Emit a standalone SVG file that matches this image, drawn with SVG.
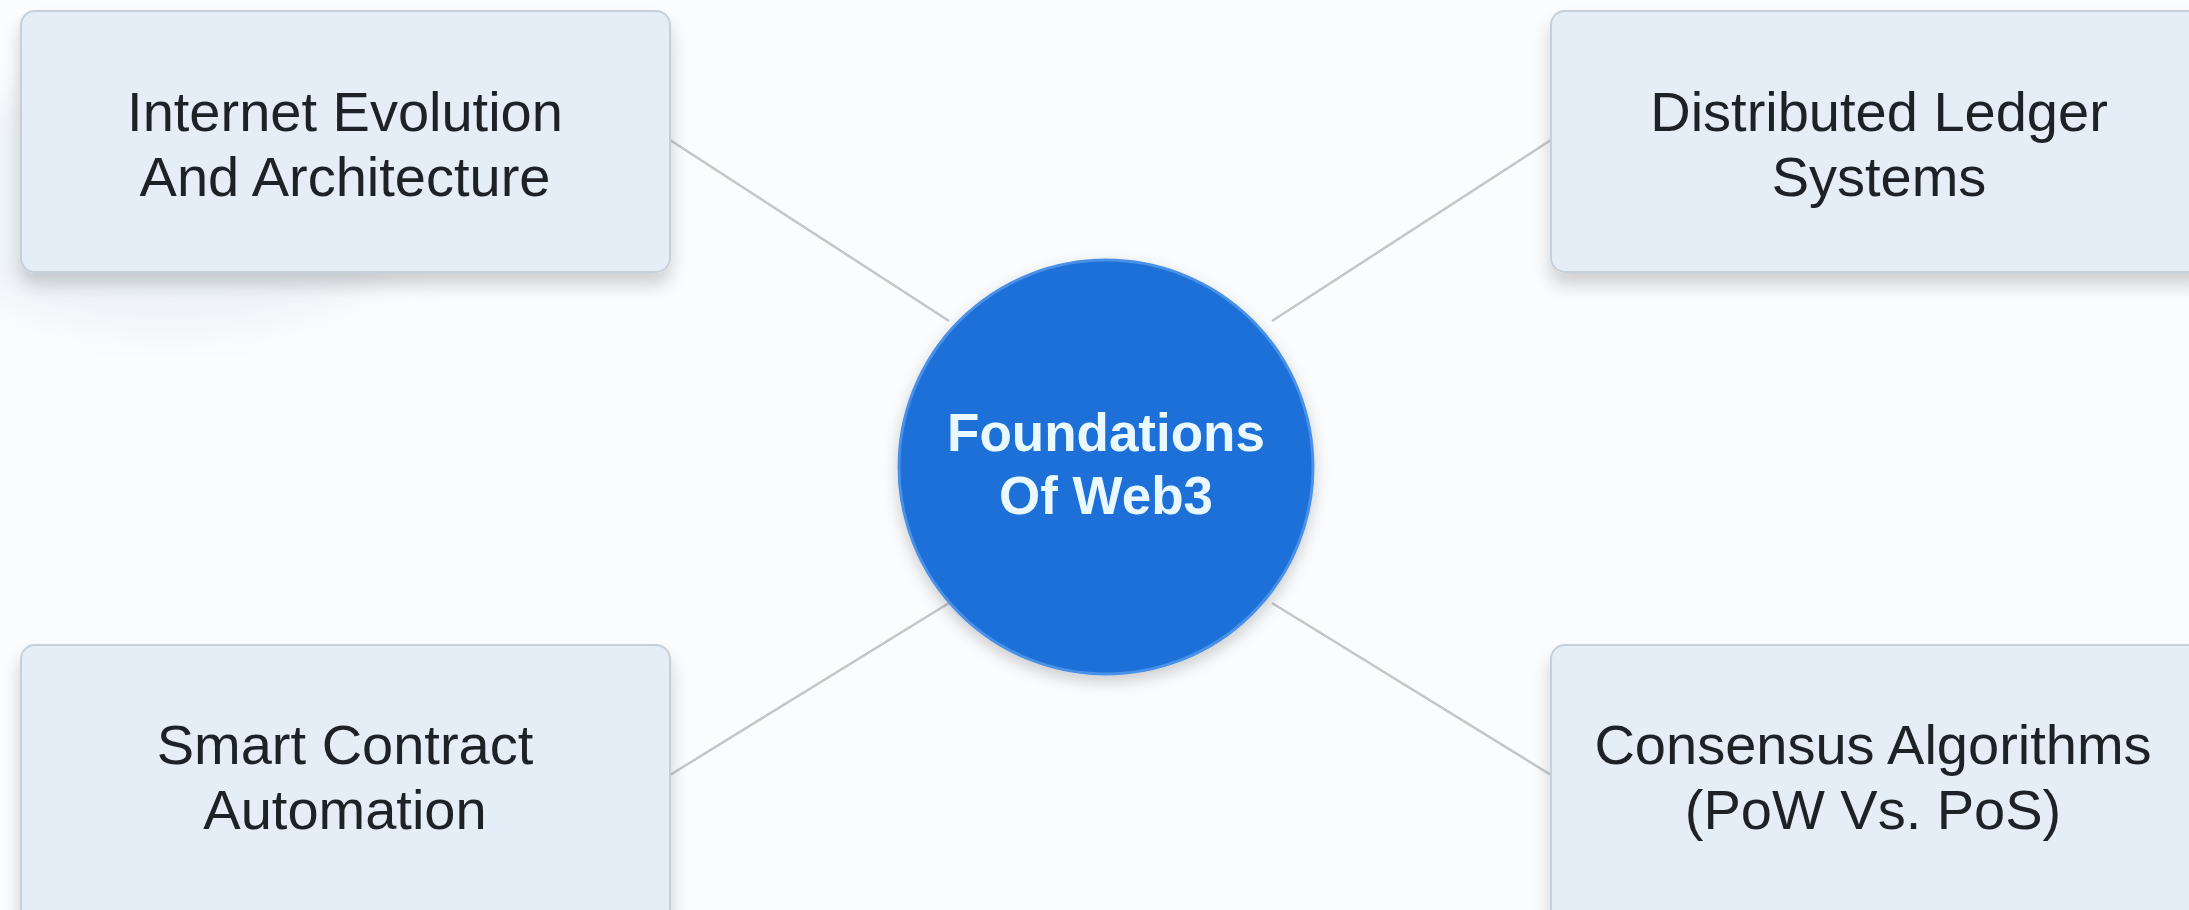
<svg xmlns="http://www.w3.org/2000/svg" width="2189" height="910" viewBox="0 0 2189 910">
<defs>
<filter id="sh" x="-10%" y="-10%" width="120%" height="135%">
<feGaussianBlur in="SourceAlpha" stdDeviation="9"/>
<feOffset dx="0" dy="12"/>
<feComponentTransfer><feFuncA type="linear" slope="0.18"/></feComponentTransfer>
<feMerge><feMergeNode/><feMergeNode in="SourceGraphic"/></feMerge>
</filter>
<filter id="csh" x="-20%" y="-20%" width="140%" height="140%">
<feGaussianBlur in="SourceAlpha" stdDeviation="8"/>
<feOffset dx="0" dy="6"/>
<feComponentTransfer><feFuncA type="linear" slope="0.2"/></feComponentTransfer>
<feMerge><feMergeNode/><feMergeNode in="SourceGraphic"/></feMerge>
</filter>
<filter id="blur"><feGaussianBlur stdDeviation="20"/></filter>
</defs>
<style>
.box{fill:#e5edf6;stroke:#c6d0db;stroke-width:2}
.lbl{font-family:"Liberation Sans",Arial,sans-serif;font-size:56px;fill:#1c2128;text-anchor:middle}
.ctr{font-family:"Liberation Sans",Arial,sans-serif;font-size:53px;font-weight:bold;fill:#eaf8ff;text-anchor:middle}
.con{stroke:#c3c7cc;stroke-width:2.5;fill:none}
</style>
<rect x="0" y="0" width="2189" height="910" fill="#fbfcfd"/>
<ellipse cx="170" cy="200" rx="260" ry="130" fill="#eef3f8" filter="url(#blur)"/>
<g id="connectors">
<line class="con" x1="670" y1="140" x2="949" y2="321"/>
<line class="con" x1="1551" y1="140" x2="1272" y2="321"/>
<line class="con" x1="670" y1="775" x2="949" y2="603"/>
<line class="con" x1="1551" y1="775" x2="1272" y2="603"/>
</g>
<g id="node-internet" filter="url(#sh)">
<rect class="box" x="21" y="11" width="649" height="261" rx="14"/>
<text class="lbl" x="345" y="131">Internet Evolution</text>
<text class="lbl" x="345" y="196">And Architecture</text>
</g>
<g id="node-ledger" filter="url(#sh)">
<rect class="box" x="1551" y="11" width="660" height="261" rx="14"/>
<text class="lbl" x="1879" y="131">Distributed Ledger</text>
<text class="lbl" x="1879" y="196">Systems</text>
</g>
<g id="node-smart" filter="url(#sh)">
<rect class="box" x="21" y="645" width="649" height="280" rx="14"/>
<text class="lbl" x="345" y="764">Smart Contract</text>
<text class="lbl" x="345" y="829">Automation</text>
</g>
<g id="node-consensus" filter="url(#sh)">
<rect class="box" x="1551" y="645" width="660" height="280" rx="14"/>
<text class="lbl" x="1873" y="764">Consensus Algorithms</text>
<text class="lbl" x="1873" y="829">(PoW Vs. PoS)</text>
</g>
<g id="node-center" filter="url(#csh)">
<circle cx="1106" cy="467" r="207" fill="#1b6fd7" stroke="#4a90e8" stroke-width="3"/>
<text class="ctr" x="1106" y="451">Foundations</text>
<text class="ctr" x="1106" y="514">Of Web3</text>
</g>
</svg>
